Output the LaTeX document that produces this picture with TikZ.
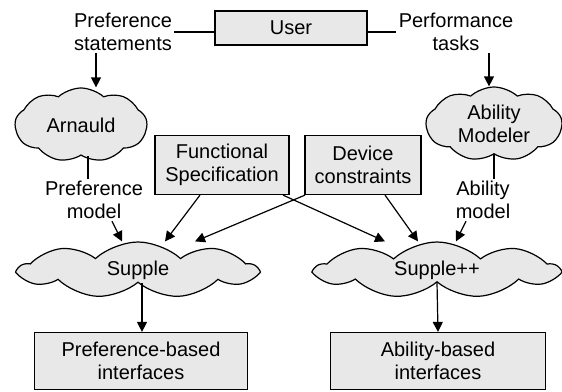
\documentclass[tikz,border=0pt]{standalone}
\usepackage{fontspec}
\setmainfont{Liberation Sans}
\usepackage{tikz}
\usetikzlibrary{arrows.meta}
\usetikzlibrary{shapes.symbols}

\definecolor{boxgray}{HTML}{E8E8E8}
\tikzset{
	every node/.style={font=\fontsize{10}{11.5}\selectfont, align=center},
	box/.style={draw, fill=boxgray, line width=0.6pt, inner sep=0pt},
	blob/.style={cloud, draw, fill=boxgray, line width=0.6pt, cloud puffs=9, cloud puff arc=85, cloud ignores aspect, inner sep=0pt},
	lbl/.style={inner sep=1pt},
	arr/.style={-{Triangle[length=5pt,width=5pt]}, line width=0.6pt},
}

\begin{document}
\begin{tikzpicture}[x=0.5pt, y=-0.5pt]
	\useasboundingbox (0,0) rectangle (562,391);
	% top row
	\node[box, minimum width=76pt, minimum height=17pt] (user) at (291,28) {User};
	\node[lbl] (prefst) at (123,32) {Preference\\statements};
	\node[lbl] (perft) at (456,32) {Performance\\tasks};
	\draw[line width=0.6pt] (prefst.east) -- (prefst.east -| user.west);
	\draw[line width=0.6pt] (user.east |- perft.west) -- (perft.west);
	%
	\node[blob, minimum width=66pt, minimum height=37pt] (arnauld) at (81,125) {Arnauld};
	\node[blob, minimum width=68pt, minimum height=37pt] (abmodeler) at (494,124) {Ability\\Modeler};
	\draw[arr] ([xshift=-13.5pt]prefst.south) -- ([xshift=-13.5pt]prefst.south |- arnauld.north);
	\draw[arr] ([xshift=16.5pt]perft.south) -- ([xshift=16.5pt]perft.south |- abmodeler.north);
	%
	\node[box, minimum width=67pt, minimum height=29.5pt] (func) at (222,165) {Functional\\Specification};
	\node[box, minimum width=58pt, minimum height=29.5pt] (device) at (363,165) {Device\\constraints};
	\node[lbl] (prefmodel) at (94,200) {Preference\\model};
	\node[lbl] (abmodel) at (483,200) {Ability\\model};
	\draw[line width=0.6pt] ([xshift=-3pt]prefmodel.north) -- ([xshift=-3pt]prefmodel.north |- arnauld.south);
	\draw[line width=0.6pt] (abmodeler.south) -- (abmodeler.south |- abmodel.north);
	%
	\node[blob, minimum width=118.5pt, minimum height=28pt] (supple) at (138,270) {Supple};
	\node[blob, minimum width=121pt, minimum height=28pt] (supplepp) at (437,270) {Supple++};
	\draw[arr] ([xshift=9pt]prefmodel.south) -- ([xshift=-8pt]supple.north);
	\draw[arr] ([xshift=-8.5pt]abmodel.south) -- ([xshift=9.5pt]supplepp.north);
	\draw[arr] ([xshift=-11pt]func.south) -- ([xshift=13.5pt]supple.north);
	\draw[arr] ([xshift=30.5pt]func.south) -- ([xshift=-26pt]supplepp.north);
	\draw[arr] ([xshift=-29pt]device.south) -- ([xshift=28.5pt]supple.north);
	\draw[arr] ([xshift=11pt]device.south) -- ([xshift=-9.5pt]supplepp.north);
	%
	\node[box, minimum width=106.5pt, minimum height=28.5pt] (prefif) at (141,361) {Preference-based\\interfaces};
	\node[box, minimum width=107.5pt, minimum height=28.5pt] (abif) at (438,361) {Ability-based\\interfaces};
	\draw[arr] ([xshift=2pt]supple.south) -- ([xshift=2pt]supple.south |- prefif.north);
	\draw[arr] (supplepp.south) -- (abif.north);
\end{tikzpicture}
\end{document}
